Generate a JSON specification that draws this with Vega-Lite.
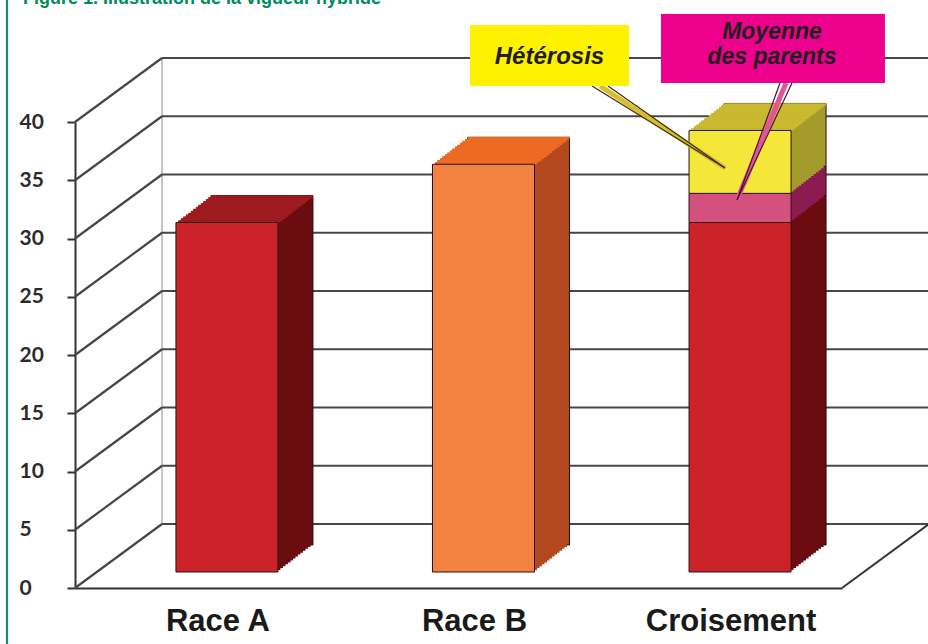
{
  "$schema": "https://vega.github.io/schema/vega-lite/v6.json",
  "width": 767,
  "height": 466,
  "autosize": "none",
  "padding": {"left": 75, "top": 122, "right": 86, "bottom": 56},
  "background": "#ffffff",
  "datasets": {
    "barres": [
      {"groupe": "Race A", "composante": "Race A", "debut": 0, "fin": 30},
      {"groupe": "Race B", "composante": "Race B", "debut": 0, "fin": 35},
      {"groupe": "Croisement", "composante": "Base", "debut": 0, "fin": 30},
      {"groupe": "Croisement", "composante": "Moyenne des parents", "debut": 30, "fin": 32.5},
      {"groupe": "Croisement", "composante": "Hétérosis", "debut": 32.5, "fin": 37.9}
    ],
    "graduations": [
      {"v": 0}, {"v": 5}, {"v": 10}, {"v": 15}, {"v": 20}, {"v": 25}, {"v": 30}, {"v": 35}, {"v": 40}
    ]
  },
  "config": {
    "view": {"stroke": null},
    "axisY": {"tickCount": 8, "grid": false, "domainColor": "#333333", "domainWidth": 2, "tickColor": "#333333", "tickWidth": 2, "tickSize": 8, "labelAlign": "left", "labelPadding": 48, "labelFont": "Lato", "labelFontWeight": "bold", "labelFontSize": 21, "labelColor": "#2b2b2b", "labelBaseline": "middle"},
    "axisX": {"grid": false, "domainColor": "#333333", "domainWidth": 2, "ticks": false, "tickSize": 0, "labelFont": "Liberation Sans", "labelFontWeight": "bold", "labelFontSize": 31, "labelColor": "#1a1a1a", "labelPadding": 42, "labelBaseline": "alphabetic", "labelOffset": 16, "labelAngle": 0}
  },
  "resolve": {"scale": {"x": "independent", "fill": "independent", "color": "independent"}},
  "layer": [
    {
      "data": {"name": "graduations"},
      "layer": [
        {
          "transform": [{"filter": "datum.v === 0"}],
          "mark": {"type": "rule", "color": "#c4c4c4", "strokeWidth": 2, "xOffset": 87, "yOffset": -64, "y2Offset": -64},
          "encoding": {
            "x": {"datum": 0, "type": "quantitative", "scale": {"domain": [0, 1], "nice": false, "zero": false}, "axis": null},
            "y": {"datum": 0, "type": "quantitative", "scale": {"domain": [0, 40], "nice": false}, "title": null},
            "y2": {"datum": 40}
          }
        },
        {
          "mark": {"type": "rule", "color": "#474747", "strokeWidth": 2.2, "xOffset": 87, "x2Offset": 87, "yOffset": -64, "y2Offset": -64},
          "encoding": {
            "x": {"datum": 0, "type": "quantitative", "scale": {"domain": [0, 1], "nice": false, "zero": false}, "axis": null},
            "x2": {"datum": 1},
            "y": {"field": "v", "type": "quantitative", "scale": {"domain": [0, 40], "nice": false}, "title": null},
            "y2": {"field": "v"}
          }
        },
        {
          "mark": {"type": "rule", "color": "#474747", "strokeWidth": 2.2, "x2Offset": 87, "y2Offset": -64},
          "encoding": {
            "x": {"datum": 0, "type": "quantitative", "scale": {"domain": [0, 1], "nice": false, "zero": false}, "axis": null},
            "x2": {"datum": 0},
            "y": {"field": "v", "type": "quantitative", "scale": {"domain": [0, 40], "nice": false}, "title": null},
            "y2": {"field": "v"}
          }
        },
        {
          "transform": [{"filter": "datum.v === 0"}],
          "mark": {"type": "rule", "color": "#333333", "strokeWidth": 2, "x2Offset": 87, "y2Offset": -64},
          "encoding": {
            "x": {"datum": 1, "type": "quantitative", "scale": {"domain": [0, 1], "nice": false, "zero": false}, "axis": null},
            "x2": {"datum": 1},
            "y": {"field": "v", "type": "quantitative", "scale": {"domain": [0, 40], "nice": false}, "title": null},
            "y2": {"field": "v"}
          }
        }
      ]
    },
    {
      "data": {"name": "barres"},
      "encoding": {
        "x": {"field": "groupe", "type": "nominal", "scale": {"domain": ["Race A", "Race B", "Croisement"], "paddingInner": 0.6023, "paddingOuter": 0.296}, "title": null}
      },
      "resolve": {"scale": {"fill": "independent", "color": "independent"}},
      "layer": [
        {
          "encoding": {
            "y": {"field": "debut", "type": "quantitative", "scale": {"domain": [0, 40], "nice": false}, "title": null},
            "y2": {"field": "fin"},
            "fill": {"field": "composante", "type": "nominal", "scale": {"domain": ["Race A", "Race B", "Base", "Moyenne des parents", "Hétérosis"], "range": ["#6b0d10", "#b4491f", "#6b0d10", "#8c1c50", "#a39b2c"]}, "legend": null}
          },
          "layer": [
            {"mark": {"type": "bar", "xOffset": 60, "yOffset": -43, "y2Offset": -43, "stroke": "#2a1010", "strokeWidth": 1}},
            {"mark": {"type": "bar", "xOffset": 57.5, "yOffset": -41.1, "y2Offset": -41.1}},
            {"mark": {"type": "bar", "xOffset": 55, "yOffset": -39.2, "y2Offset": -39.2}},
            {"mark": {"type": "bar", "xOffset": 52.5, "yOffset": -37.2, "y2Offset": -37.2}},
            {"mark": {"type": "bar", "xOffset": 50, "yOffset": -35.3, "y2Offset": -35.3}},
            {"mark": {"type": "bar", "xOffset": 47.5, "yOffset": -33.4, "y2Offset": -33.4}},
            {"mark": {"type": "bar", "xOffset": 45, "yOffset": -31.4, "y2Offset": -31.4}},
            {"mark": {"type": "bar", "xOffset": 42.5, "yOffset": -29.5, "y2Offset": -29.5}},
            {"mark": {"type": "bar", "xOffset": 40, "yOffset": -27.6, "y2Offset": -27.6}},
            {"mark": {"type": "bar", "xOffset": 37.5, "yOffset": -25.6, "y2Offset": -25.6}},
            {"mark": {"type": "bar", "xOffset": 35, "yOffset": -23.7, "y2Offset": -23.7}},
            {"mark": {"type": "bar", "xOffset": 32.5, "yOffset": -21.8, "y2Offset": -21.8}},
            {"mark": {"type": "bar", "xOffset": 30, "yOffset": -19.9, "y2Offset": -19.9}},
            {"mark": {"type": "bar", "xOffset": 27.5, "yOffset": -17.9, "y2Offset": -17.9}}
          ]
        },
        {
          "transform": [
            {"joinaggregate": [{"op": "max", "field": "fin", "as": "sommet"}], "groupby": ["groupe"]},
            {"filter": "datum.fin === datum.sommet"}
          ],
          "encoding": {
            "y": {"field": "fin", "type": "quantitative", "scale": {"domain": [0, 40], "nice": false}, "title": null},
            "color": {"field": "composante", "type": "nominal", "scale": {"domain": ["Race A", "Race B", "Base", "Moyenne des parents", "Hétérosis"], "range": ["#9e1b1f", "#ee6a22", "#9e1b1f", "#b0306a", "#c9b92f"]}, "legend": null}
          },
          "layer": [
            {"mark": {"type": "tick", "opacity": 1, "size": 102, "thickness": 2.5, "xOffset": 60, "yOffset": -42.0}},
            {"mark": {"type": "tick", "opacity": 1, "size": 102, "thickness": 2.5, "xOffset": 57.5, "yOffset": -40.1}},
            {"mark": {"type": "tick", "opacity": 1, "size": 102, "thickness": 2.5, "xOffset": 55, "yOffset": -38.2}},
            {"mark": {"type": "tick", "opacity": 1, "size": 102, "thickness": 2.5, "xOffset": 52.5, "yOffset": -36.2}},
            {"mark": {"type": "tick", "opacity": 1, "size": 102, "thickness": 2.5, "xOffset": 50, "yOffset": -34.3}},
            {"mark": {"type": "tick", "opacity": 1, "size": 102, "thickness": 2.5, "xOffset": 47.5, "yOffset": -32.4}},
            {"mark": {"type": "tick", "opacity": 1, "size": 102, "thickness": 2.5, "xOffset": 45, "yOffset": -30.4}},
            {"mark": {"type": "tick", "opacity": 1, "size": 102, "thickness": 2.5, "xOffset": 42.5, "yOffset": -28.5}},
            {"mark": {"type": "tick", "opacity": 1, "size": 102, "thickness": 2.5, "xOffset": 40, "yOffset": -26.6}},
            {"mark": {"type": "tick", "opacity": 1, "size": 102, "thickness": 2.5, "xOffset": 37.5, "yOffset": -24.6}},
            {"mark": {"type": "tick", "opacity": 1, "size": 102, "thickness": 2.5, "xOffset": 35, "yOffset": -22.7}},
            {"mark": {"type": "tick", "opacity": 1, "size": 102, "thickness": 2.5, "xOffset": 32.5, "yOffset": -20.8}},
            {"mark": {"type": "tick", "opacity": 1, "size": 102, "thickness": 2.5, "xOffset": 30, "yOffset": -18.9}},
            {"mark": {"type": "tick", "opacity": 1, "size": 102, "thickness": 2.5, "xOffset": 27.5, "yOffset": -16.9}}
          ]
        },
        {
          "mark": {"type": "bar", "xOffset": 25, "yOffset": -16, "y2Offset": -16, "stroke": "#2a1212", "strokeWidth": 1},
          "encoding": {
            "y": {"field": "debut", "type": "quantitative", "scale": {"domain": [0, 40], "nice": false}, "title": null},
            "y2": {"field": "fin"},
            "fill": {"field": "composante", "type": "nominal", "scale": {"domain": ["Race A", "Race B", "Base", "Moyenne des parents", "Hétérosis"], "range": ["#cc2229", "#f1823f", "#cc2229", "#d4507f", "#f5e63a"]}, "legend": null}
          }
        }
      ]
    },
    {
      "data": {"name": "graduations"},
      "transform": [{"filter": "datum.v === 0"}],
      "layer": [
        {
          "mark": {"type": "rule", "color": "#d9bd2a", "strokeWidth": 5},
          "encoding": {
            "x": {"datum": 0.6845, "type": "quantitative", "scale": {"domain": [0, 1], "nice": false, "zero": false}, "axis": null},
            "x2": {"datum": 0.8475},
            "y": {"datum": 43.09, "type": "quantitative", "scale": {"domain": [0, 40], "nice": false}, "title": null},
            "y2": {"datum": 36.05}
          }
        },
        {
          "mark": {"type": "rule", "color": "#3b3210", "strokeWidth": 1.3},
          "encoding": {
            "x": {"datum": 0.6741, "type": "quantitative", "scale": {"domain": [0, 1], "nice": false, "zero": false}, "axis": null},
            "x2": {"datum": 0.8475},
            "y": {"datum": 43.09, "type": "quantitative", "scale": {"domain": [0, 40], "nice": false}, "title": null},
            "y2": {"datum": 36.05}
          }
        },
        {
          "mark": {"type": "rule", "color": "#3b3210", "strokeWidth": 1.3},
          "encoding": {
            "x": {"datum": 0.6949, "type": "quantitative", "scale": {"domain": [0, 1], "nice": false, "zero": false}, "axis": null},
            "x2": {"datum": 0.8475},
            "y": {"datum": 43.09, "type": "quantitative", "scale": {"domain": [0, 40], "nice": false}, "title": null},
            "y2": {"datum": 36.05}
          }
        },
        {
          "mark": {"type": "rule", "color": "#e0559a", "strokeWidth": 5},
          "encoding": {
            "x": {"datum": 0.927, "type": "quantitative", "scale": {"domain": [0, 1], "nice": false, "zero": false}, "axis": null},
            "x2": {"datum": 0.8631},
            "y": {"datum": 43.35, "type": "quantitative", "scale": {"domain": [0, 40], "nice": false}, "title": null},
            "y2": {"datum": 33.3}
          }
        },
        {
          "mark": {"type": "rule", "color": "#4a1030", "strokeWidth": 1.2},
          "encoding": {
            "x": {"datum": 0.9192, "type": "quantitative", "scale": {"domain": [0, 1], "nice": false, "zero": false}, "axis": null},
            "x2": {"datum": 0.8631},
            "y": {"datum": 43.35, "type": "quantitative", "scale": {"domain": [0, 40], "nice": false}, "title": null},
            "y2": {"datum": 33.3}
          }
        },
        {
          "mark": {"type": "rule", "color": "#4a1030", "strokeWidth": 1.2},
          "encoding": {
            "x": {"datum": 0.9348, "type": "quantitative", "scale": {"domain": [0, 1], "nice": false, "zero": false}, "axis": null},
            "x2": {"datum": 0.8631},
            "y": {"datum": 43.35, "type": "quantitative", "scale": {"domain": [0, 40], "nice": false}, "title": null},
            "y2": {"datum": 33.3}
          }
        },
        {
          "mark": {"type": "rect", "color": "#fff200"},
          "encoding": {
            "x": {"datum": 0.515, "type": "quantitative", "scale": {"domain": [0, 1], "nice": false, "zero": false}, "axis": null},
            "x2": {"datum": 0.7223},
            "y": {"datum": 48.33, "type": "quantitative", "scale": {"domain": [0, 40], "nice": false}, "title": null},
            "y2": {"datum": 43.09}
          }
        },
        {
          "mark": {"type": "rect", "color": "#ec008c"},
          "encoding": {
            "x": {"datum": 0.764, "type": "quantitative", "scale": {"domain": [0, 1], "nice": false, "zero": false}, "axis": null},
            "x2": {"datum": 1.056},
            "y": {"datum": 49.27, "type": "quantitative", "scale": {"domain": [0, 40], "nice": false}, "title": null},
            "y2": {"datum": 43.35}
          }
        },
        {
          "mark": {"type": "text", "text": "Hétérosis", "font": "Liberation Sans", "fontWeight": "bold", "fontStyle": "italic", "fontSize": 24, "color": "#231f20", "align": "center", "baseline": "middle"},
          "encoding": {
            "x": {"datum": 0.6186, "type": "quantitative", "scale": {"domain": [0, 1], "nice": false, "zero": false}, "axis": null},
            "y": {"datum": 45.58, "type": "quantitative", "scale": {"domain": [0, 40], "nice": false}, "title": null}
          }
        },
        {
          "mark": {"type": "text", "text": "Moyenne", "font": "Liberation Sans", "fontWeight": "bold", "fontStyle": "italic", "fontSize": 23, "color": "#231f20", "align": "center", "baseline": "middle"},
          "encoding": {
            "x": {"datum": 0.9087, "type": "quantitative", "scale": {"domain": [0, 1], "nice": false, "zero": false}, "axis": null},
            "y": {"datum": 47.73, "type": "quantitative", "scale": {"domain": [0, 40], "nice": false}, "title": null}
          }
        },
        {
          "mark": {"type": "text", "text": "des parents", "font": "Liberation Sans", "fontWeight": "bold", "fontStyle": "italic", "fontSize": 23, "color": "#231f20", "align": "center", "baseline": "middle"},
          "encoding": {
            "x": {"datum": 0.9087, "type": "quantitative", "scale": {"domain": [0, 1], "nice": false, "zero": false}, "axis": null},
            "y": {"datum": 45.62, "type": "quantitative", "scale": {"domain": [0, 40], "nice": false}, "title": null}
          }
        },
        {
          "mark": {"type": "text", "text": "Figure 1. Illustration de la vigueur hybride", "font": "Liberation Sans", "fontWeight": "bold", "fontSize": 18, "color": "#008a5e", "align": "left", "baseline": "alphabetic"},
          "encoding": {
            "x": {"datum": -0.0678, "type": "quantitative", "scale": {"domain": [0, 1], "nice": false, "zero": false}, "axis": null},
            "y": {"datum": 50.13, "type": "quantitative", "scale": {"domain": [0, 40], "nice": false}, "title": null}
          }
        },
        {
          "mark": {"type": "rule", "color": "#00906a", "strokeWidth": 2},
          "encoding": {
            "x": {"datum": -0.0887, "type": "quantitative", "scale": {"domain": [0, 1], "nice": false, "zero": false}, "axis": null},
            "y": {"datum": -5, "type": "quantitative", "scale": {"domain": [0, 40], "nice": false}, "title": null},
            "y2": {"datum": 52}
          }
        }
      ]
    }
  ]
}
